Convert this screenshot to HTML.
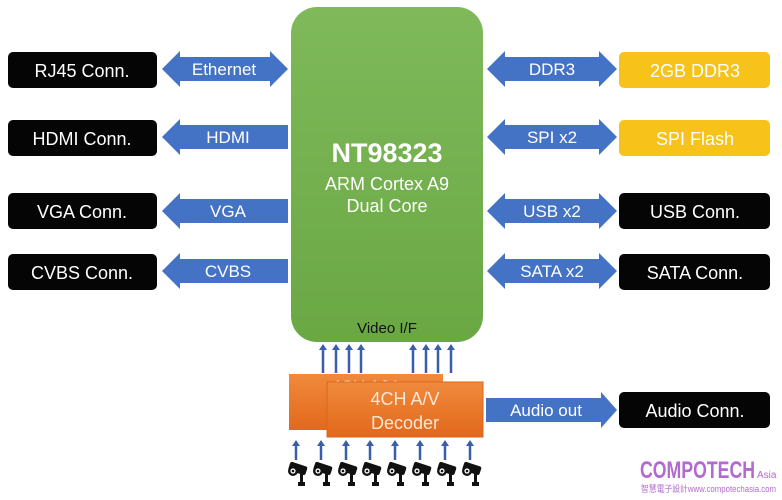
<!DOCTYPE html>
<html><head><meta charset="utf-8"><style>
body{margin:0;background:#fff}
svg{display:block}
text{font-family:"Liberation Sans",sans-serif}
</style></head><body>
<svg width="782" height="500" viewBox="0 0 782 500" xmlns="http://www.w3.org/2000/svg">
<defs>
<linearGradient id="g" x1="0" y1="0" x2="0" y2="1"><stop offset="0" stop-color="#7fb95a"/><stop offset="1" stop-color="#6aa844"/></linearGradient>
<linearGradient id="o" x1="0" y1="0" x2="0" y2="1"><stop offset="0" stop-color="#f08a3c"/><stop offset="1" stop-color="#e2681c"/></linearGradient>
<g id="cam">
<rect x="2" y="2" width="18" height="9" rx="2" fill="#111" transform="rotate(18 11 6)"/>
<circle cx="6" cy="9" r="5" fill="#111"/><circle cx="6" cy="9" r="2.6" fill="#fff"/><circle cx="6" cy="9" r="1.3" fill="#111"/>
<rect x="13" y="12" width="3" height="10" fill="#111"/><rect x="11" y="20" width="7" height="4" fill="#111"/>
</g>
</defs>
<!-- green -->
<rect x="291" y="7" width="192" height="335" rx="26" fill="url(#g)"/>
<text x="387" y="162" text-anchor="middle" font-size="27" font-weight="bold" fill="#fff">NT98323</text>
<text x="387" y="190" text-anchor="middle" font-size="18" fill="#fff">ARM Cortex A9</text>
<text x="387" y="212" text-anchor="middle" font-size="18" fill="#fff">Dual Core</text>
<text x="387" y="333" text-anchor="middle" font-size="15" fill="#111">Video I/F</text>
<!-- left boxes -->
<g fill="#050505">
<rect x="8" y="52" width="149" height="36" rx="5"/><rect x="8" y="120" width="149" height="36" rx="5"/>
<rect x="8" y="193" width="149" height="36" rx="5"/><rect x="8" y="254" width="149" height="36" rx="5"/>
<rect x="619" y="193" width="151" height="36" rx="5"/><rect x="619" y="254" width="151" height="36" rx="5"/>
<rect x="619" y="392" width="151" height="36" rx="5"/>
</g>
<g fill="#f7c21a"><rect x="619" y="52" width="151" height="36" rx="5"/><rect x="619" y="120" width="151" height="36" rx="5"/></g>
<g font-size="18" fill="#fff" text-anchor="middle">
<text x="82" y="77">RJ45 Conn.</text><text x="82" y="145">HDMI Conn.</text>
<text x="82" y="218">VGA Conn.</text><text x="82" y="279">CVBS Conn.</text>
<text x="695" y="77">2GB DDR3</text><text x="695" y="145">SPI Flash</text>
<text x="695" y="218">USB Conn.</text><text x="695" y="279">SATA Conn.</text>
<text x="695" y="417">Audio Conn.</text>
</g>
<!-- arrows -->
<g fill="#4472c4">
<polygon points="162,69 180,51 180,57 270,57 270,51 288,69 270,87 270,81 180,81 180,87"/>
<polygon points="162,137 180,119 180,125 288,125 288,149 180,149 180,155"/>
<polygon points="162,211 180,193 180,199 288,199 288,223 180,223 180,229"/>
<polygon points="162,271 180,253 180,259 288,259 288,283 180,283 180,289"/>
<polygon points="487,69 505,51 505,57 599,57 599,51 617,69 599,87 599,81 505,81 505,87"/>
<polygon points="487,137 505,119 505,125 599,125 599,119 617,137 599,155 599,149 505,149 505,155"/>
<polygon points="487,211 505,193 505,199 599,199 599,193 617,211 599,229 599,223 505,223 505,229"/>
<polygon points="487,271 505,253 505,259 599,259 599,253 617,271 599,289 599,283 505,283 505,289"/>
<polygon points="486,398 601,398 601,392 617,410 601,428 601,422 486,422"/>
</g>
<g font-size="17" fill="#fff" text-anchor="middle">
<text x="224" y="75">Ethernet</text><text x="228" y="143">HDMI</text>
<text x="228" y="217">VGA</text><text x="228" y="277">CVBS</text>
<text x="552" y="75">DDR3</text><text x="552" y="143">SPI x2</text>
<text x="552" y="217">USB x2</text><text x="552" y="277">SATA x2</text>
<text x="546" y="416">Audio out</text>
</g>
<!-- up arrows -->
<g stroke="#3b5ea8" stroke-width="2.5" fill="#3b5ea8">
<line x1="323" y1="350" x2="323" y2="373"/><line x1="336" y1="350" x2="336" y2="373"/><line x1="349" y1="350" x2="349" y2="373"/><line x1="361" y1="350" x2="361" y2="373"/>
<line x1="413" y1="350" x2="413" y2="373"/><line x1="426" y1="350" x2="426" y2="373"/><line x1="438" y1="350" x2="438" y2="373"/><line x1="451" y1="350" x2="451" y2="373"/>
</g>
<g fill="#3b5ea8">
<polygon points="319,350 323,344 327,350"/><polygon points="332,350 336,344 340,350"/><polygon points="345,350 349,344 353,350"/><polygon points="357,350 361,344 365,350"/>
<polygon points="409,350 413,344 417,350"/><polygon points="422,350 426,344 430,350"/><polygon points="434,350 438,344 442,350"/><polygon points="447,350 451,344 455,350"/>
</g>
<!-- orange -->
<rect x="289" y="374" width="154" height="56" fill="url(#o)"/>
<text x="364" y="392" font-size="17" fill="#fbd8c0" text-anchor="middle">4CH A/V</text>
<rect x="327" y="382" width="156" height="55" fill="url(#o)" stroke="#d9661f" stroke-width="1"/>
<text x="405" y="405" font-size="18" fill="#fde8d8" text-anchor="middle">4CH A/V</text>
<text x="405" y="429" font-size="18" fill="#fde8d8" text-anchor="middle">Decoder</text>
<!-- small arrows -->
<g stroke="#3b5ea8" stroke-width="2.5"><line x1="296" y1="445" x2="296" y2="460"/><line x1="321" y1="445" x2="321" y2="460"/><line x1="346" y1="445" x2="346" y2="460"/><line x1="370" y1="445" x2="370" y2="460"/><line x1="395" y1="445" x2="395" y2="460"/><line x1="420" y1="445" x2="420" y2="460"/><line x1="445" y1="445" x2="445" y2="460"/><line x1="470" y1="445" x2="470" y2="460"/></g>
<g fill="#3b5ea8"><polygon points="292,446 296,440 300,446"/><polygon points="317,446 321,440 325,446"/><polygon points="342,446 346,440 350,446"/><polygon points="366,446 370,440 374,446"/><polygon points="391,446 395,440 399,446"/><polygon points="416,446 420,440 424,446"/><polygon points="441,446 445,440 449,446"/><polygon points="466,446 470,440 474,446"/></g>
<use href="#cam" x="287" y="462"/><use href="#cam" x="312" y="462"/><use href="#cam" x="337" y="462"/><use href="#cam" x="361" y="462"/>
<use href="#cam" x="386" y="462"/><use href="#cam" x="411" y="462"/><use href="#cam" x="436" y="462"/><use href="#cam" x="461" y="462"/>
<!-- logo -->
<text x="640" y="478" font-size="24" font-weight="bold" fill="#b36ad0" textLength="115" lengthAdjust="spacingAndGlyphs">COMPOTECH</text>
<text x="757" y="478" font-size="10" fill="#b36ad0">Asia</text>
<text x="641" y="492" font-size="9" fill="#b36ad0" font-family="Liberation Sans, Noto Sans CJK TC, sans-serif" textLength="135" lengthAdjust="spacingAndGlyphs">智慧電子設計www.compotechasia.com</text>
</svg>
</body></html>
